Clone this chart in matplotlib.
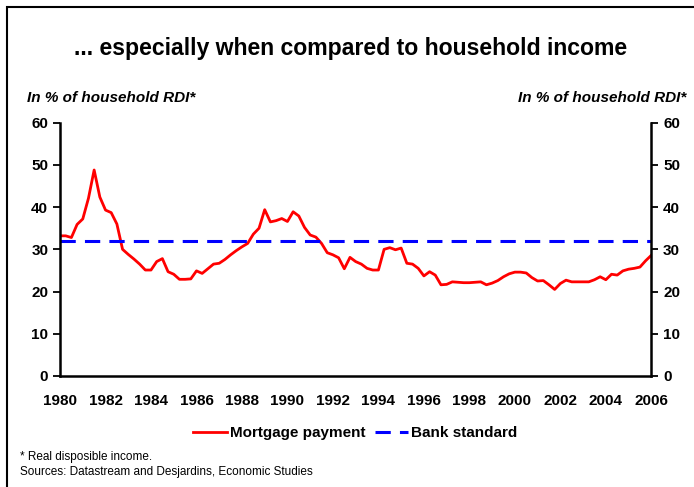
import numpy             as np
import matplotlib
matplotlib.use('Agg')
import matplotlib.pyplot as plt
from matplotlib.patches  import Rectangle


START_YEAR    = 1980
QUARTERS      = 4
BANK_STANDARD = 32

# mortgage payment, in % of household RDI, quarterly from 1980Q1
mortgagePayment = [
  33.2, 33.2, 32.8, 35.9, 37.2, 42.1, 48.8, 42.4, 39.3, 38.7,
  36.0, 30.0, 28.8, 27.7, 26.5, 25.1, 25.1, 27.1, 27.8, 24.7,
  24.1, 22.9, 22.9, 23.0, 24.9, 24.3, 25.4, 26.5, 26.7, 27.6,
  28.7, 29.7, 30.6, 31.4, 33.6, 35.0, 39.4, 36.5, 36.8, 37.3,
  36.6, 38.9, 37.9, 35.2, 33.4, 32.9, 31.4, 29.2, 28.7, 28.0,
  25.4, 28.1, 27.1, 26.5, 25.5, 25.1, 25.1, 30.0, 30.4, 29.9,
  30.3, 26.7, 26.5, 25.5, 23.7, 24.7, 23.9, 21.6, 21.7, 22.3,
  22.2, 22.1, 22.1, 22.2, 22.3, 21.6, 22.0, 22.6, 23.5, 24.2,
  24.6, 24.6, 24.4, 23.3, 22.5, 22.6, 21.6, 20.5, 21.9, 22.7,
  22.3, 22.3, 22.3, 22.3, 22.8, 23.5, 22.8, 24.1, 23.9, 24.9,
  25.3, 25.5, 25.8, 27.3, 28.6
]

yearTicks  = list(range(1980, 2007, 2))
valueTicks = [0, 10, 20, 30, 40, 50, 60]

TITLE      = '... especially when compared to household income'
AXIS_LABEL = 'In % of household RDI*'
NOTE_1     = '* Real disposible income.'
NOTE_2     = 'Sources: Datastream and Desjardins, Economic Studies'

plt.rcParams['font.family'] = ['Liberation Sans', 'DejaVu Sans']

years = START_YEAR + np.arange(len(mortgagePayment)) / QUARTERS

fig = plt.figure(figsize = (6.94, 4.87), dpi = 100)
ax  = fig.add_axes([0.0865, 0.228, 0.852, 0.52])

ax.plot(years, mortgagePayment,
  color     = '#ff0000',
  linewidth = 2.0,
  label     = 'Mortgage payment'
)
ax.plot([START_YEAR, 2006], [BANK_STANDARD, BANK_STANDARD],
  color     = '#0000ff',
  linewidth = 2.2,
  dashes    = (5, 3),
  label     = 'Bank standard'
)

ax.set_xlim(1980, 2006)
ax.set_ylim(0, 60)
ax.set_xticks(yearTicks)
ax.set_yticks(valueTicks)
ax.set_xticklabels([str(y) for y in yearTicks], fontsize = 11, fontweight = 'bold')
ax.set_yticklabels([str(v) for v in valueTicks], fontsize = 11, fontweight = 'bold')

ax.tick_params(axis = 'x', length = 0, pad = 13)
ax.tick_params(axis = 'y', length = 5, width = 1.3, direction = 'out',
               left = True, right = True, labelleft = True, labelright = True, pad = 3.5)

for side in ['left', 'right', 'bottom']:
  ax.spines[side].set_linewidth(1.8)
ax.spines['top'].set_visible(False)

# titles and labels
fig.text(0.505, 0.901, TITLE, ha = 'center', va = 'center', fontsize = 16.6, fontweight = 'bold')
fig.text(0.039, 0.798, AXIS_LABEL, ha = 'left',  va = 'center', fontsize = 11,
         fontweight = 'bold', fontstyle = 'italic')
fig.text(0.989, 0.798, AXIS_LABEL, ha = 'right', va = 'center', fontsize = 11,
         fontweight = 'bold', fontstyle = 'italic')

leg = fig.legend(
  loc            = 'center',
  bbox_to_anchor = (0.512, 0.111),
  ncol           = 2,
  frameon        = False,
  handlelength   = 2.2,
  handletextpad  = 0.2,
  columnspacing  = 0.6,
  prop           = {'size': 11, 'weight': 'bold'}
)

fig.text(0.029, 0.061, NOTE_1, ha = 'left', va = 'center', fontsize = 8.5)
fig.text(0.029, 0.030, NOTE_2, ha = 'left', va = 'center', fontsize = 8.5)

# outer frame
fig.patches.append(Rectangle((0.010, -0.05), 1.2, 1.0356,
  transform = fig.transFigure,
  fill      = False,
  edgecolor = 'black',
  linewidth = 1.5
))

fig.savefig('out.png', dpi = 100)
